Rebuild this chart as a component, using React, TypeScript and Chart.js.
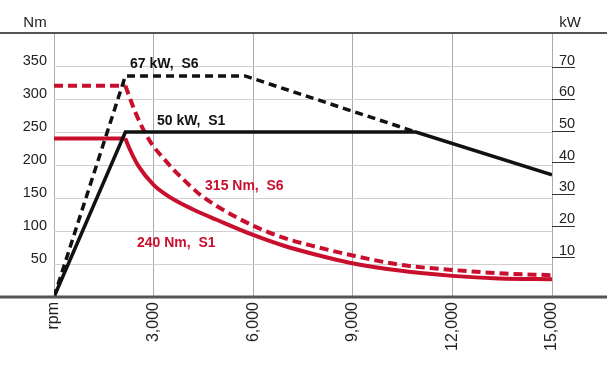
import React, { useEffect, useRef } from 'react';
import { Chart, registerables } from 'chart.js';

Chart.register(...registerables);

// ---- Data ----
const xTickValues = [0, 3000, 6000, 9000, 12000, 15000];
const xTickLabels = ['rpm', '3,000', '6,000', '9,000', '12,000', '15,000'];
const nmTickValues = [50, 100, 150, 200, 250, 300, 350];
const kwTickValues = [10, 20, 30, 40, 50, 60, 70];

// Power (kW)
const s1PowerRpm = [0, 2150, 10900, 15000];
const s1PowerKw = [0, 50, 50, 37];
const s6PowerRpm = [0, 2150, 5750, 10900];
const s6PowerKw = [0, 67, 67, 50];

// Torque (Nm)
const s1TorqueRpm = [0, 2150, 2300, 2550, 3000, 3350, 3700, 4300, 4900, 6000, 6900, 7900, 8900, 10400, 12000, 13400, 15000];
const s1TorqueNm = [240, 240, 222, 198, 170, 156, 145, 130, 117, 94, 78, 64, 52, 40, 32, 28, 27];
const s6TorqueRpm = [0, 2150, 2450, 2750, 3000, 3300, 3600, 3900, 4400, 4900, 6000, 6900, 7900, 8900, 10400, 12000, 13400, 15000];
const s6TorqueNm = [320, 320, 280, 248, 228, 210, 193, 178, 155, 138, 108, 90, 76, 64, 49, 41, 36, 33];

const annotationTexts = ['67 kW,  S6', '50 kW,  S1', '315 Nm,  S6', '240 Nm,  S1'];
const annotationRpm = [2290, 3100, 4550, 2500];
const annotationNm = [353, 267, 168, 82];
const axisTitles = ['Nm', 'kW'];

const RED = '#c8102e';
const BLACK = '#111111';
const annotationColors = [BLACK, BLACK, RED, RED];
const FONT = "'Liberation Sans', Arial, Helvetica, sans-serif";

function pts(xs: number[], ys: number[]) {
  return xs.map((x, i) => ({ x, y: ys[i] }));
}

const framePlugin = {
  id: 'frame',
  afterDatasetsDraw(chart: any) {
    const { ctx, scales } = chart;
    ctx.save();
    ctx.font = `bold 14px ${FONT}`;
    ctx.textBaseline = 'middle';
    ctx.textAlign = 'left';
    annotationTexts.forEach((t, i) => {
      ctx.fillStyle = annotationColors[i];
      ctx.fillText(t, scales.x.getPixelForValue(annotationRpm[i]), scales.nm.getPixelForValue(annotationNm[i]));
    });
    ctx.restore();
  },
  afterDraw(chart: any) {
    const { ctx, chartArea, width } = chart;
    ctx.save();
    ctx.strokeStyle = '#555555';
    ctx.lineWidth = 2;
    ctx.beginPath();
    ctx.moveTo(0, chartArea.top);
    ctx.lineTo(width, chartArea.top);
    ctx.stroke();
    ctx.lineWidth = 3;
    ctx.beginPath();
    ctx.moveTo(0, chartArea.bottom);
    ctx.lineTo(width, chartArea.bottom);
    ctx.stroke();
    ctx.fillStyle = '#222222';
    ctx.font = `15px ${FONT}`;
    ctx.textAlign = 'center';
    ctx.textBaseline = 'middle';
    ctx.fillText(axisTitles[0], chartArea.left - 19, chartArea.top - 10);
    ctx.fillText(axisTitles[1], chartArea.right + 18, chartArea.top - 10);
    ctx.restore();
  },
};

export default function App() {
  const ref = useRef<HTMLCanvasElement | null>(null);

  useEffect(() => {
    document.body.style.margin = '0';
    const canvas = ref.current;
    if (!canvas) return;

    const common = { pointRadius: 0, fill: false, tension: 0 };

    const chart = new Chart(canvas, {
      type: 'line',
      data: {
        datasets: [
          {
            ...common,
            label: 'S6 power',
            data: pts(s6PowerRpm, s6PowerKw),
            borderColor: BLACK,
            borderWidth: 3.5,
            borderDash: [8, 5],
            yAxisID: 'pw',
            order: 1,
          },
          {
            ...common,
            label: 'S1 power',
            data: pts(s1PowerRpm, s1PowerKw),
            borderColor: BLACK,
            borderWidth: 3.5,
            yAxisID: 'pw',
            order: 1,
          },
          {
            ...common,
            label: 'S6 torque flat',
            data: pts(s6TorqueRpm.slice(0, 2), s6TorqueNm.slice(0, 2)),
            borderColor: RED,
            borderWidth: 4,
            borderDash: [9, 5],
            yAxisID: 'nm',
            order: 2,
          },
          {
            ...common,
            label: 'S6 torque',
            data: pts(s6TorqueRpm.slice(1), s6TorqueNm.slice(1)),
            borderColor: RED,
            borderWidth: 4,
            borderDash: [9, 5],
            cubicInterpolationMode: 'monotone',
            yAxisID: 'nm',
            order: 2,
          },
          {
            ...common,
            label: 'S1 torque flat',
            data: pts(s1TorqueRpm.slice(0, 2), s1TorqueNm.slice(0, 2)),
            borderColor: RED,
            borderWidth: 4,
            yAxisID: 'nm',
            order: 2,
          },
          {
            ...common,
            label: 'S1 torque',
            data: pts(s1TorqueRpm.slice(1), s1TorqueNm.slice(1)),
            borderColor: RED,
            borderWidth: 4,
            cubicInterpolationMode: 'monotone',
            yAxisID: 'nm',
            order: 2,
          },
        ] as any,
      },
      options: {
        animation: false,
        responsive: false,
        devicePixelRatio: 1,
        layout: { padding: { top: 33, left: 0, right: 0, bottom: 0 } },
        plugins: { legend: { display: false }, tooltip: { enabled: false } },
        scales: {
          x: {
            type: 'linear',
            min: 0,
            max: 15000,
            afterBuildTicks: (s: any) => {
              s.ticks = xTickValues.map((v) => ({ value: v }));
            },
            ticks: {
              callback: (_v: any, i: number) => xTickLabels[i],
              minRotation: 90,
              maxRotation: 90,
              autoSkip: false,
              padding: 5,
              color: '#222222',
              font: { family: FONT, size: 16 },
            },
            grid: { color: '#aaaaaa', lineWidth: 1, drawTicks: false },
            border: { display: false },
            afterFit: (s: any) => {
              s.height = 73;
            },
          },
          nm: {
            type: 'linear',
            position: 'left',
            min: 0,
            max: 400,
            afterBuildTicks: (s: any) => {
              s.ticks = nmTickValues.map((v) => ({ value: v }));
            },
            ticks: {
              callback: (v: any) => String(v),
              padding: 7,
              labelOffset: -5,
              color: '#222222',
              font: { family: FONT, size: 14.5 },
            },
            grid: { color: '#cfcfcf', lineWidth: 1, drawTicks: false },
            border: { display: false },
            afterFit: (s: any) => {
              s.width = 54;
            },
          },
          pw: {
            type: 'linear',
            position: 'right',
            display: false,
            min: 0,
            max: 80,
          },
          kw: {
            type: 'linear',
            position: 'right',
            min: -2.4,
            max: 81,
            afterBuildTicks: (s: any) => {
              s.ticks = kwTickValues.map((v) => ({ value: v }));
            },
            ticks: {
              callback: (v: any) => String(v),
              padding: -16,
              labelOffset: -7,
              color: '#222222',
              font: { family: FONT, size: 14.5 },
            },
            grid: {
              drawOnChartArea: false,
              drawTicks: true,
              tickLength: 23,
              tickColor: '#333333',
              lineWidth: 1,
            },
            border: { display: false },
            afterFit: (s: any) => {
              s.width = 55;
            },
          },
        } as any,
      },
      plugins: [framePlugin],
    });

    return () => chart.destroy();
  }, []);

  return <canvas ref={ref} width={607} height={370} style={{ display: 'block' }} />;
}
